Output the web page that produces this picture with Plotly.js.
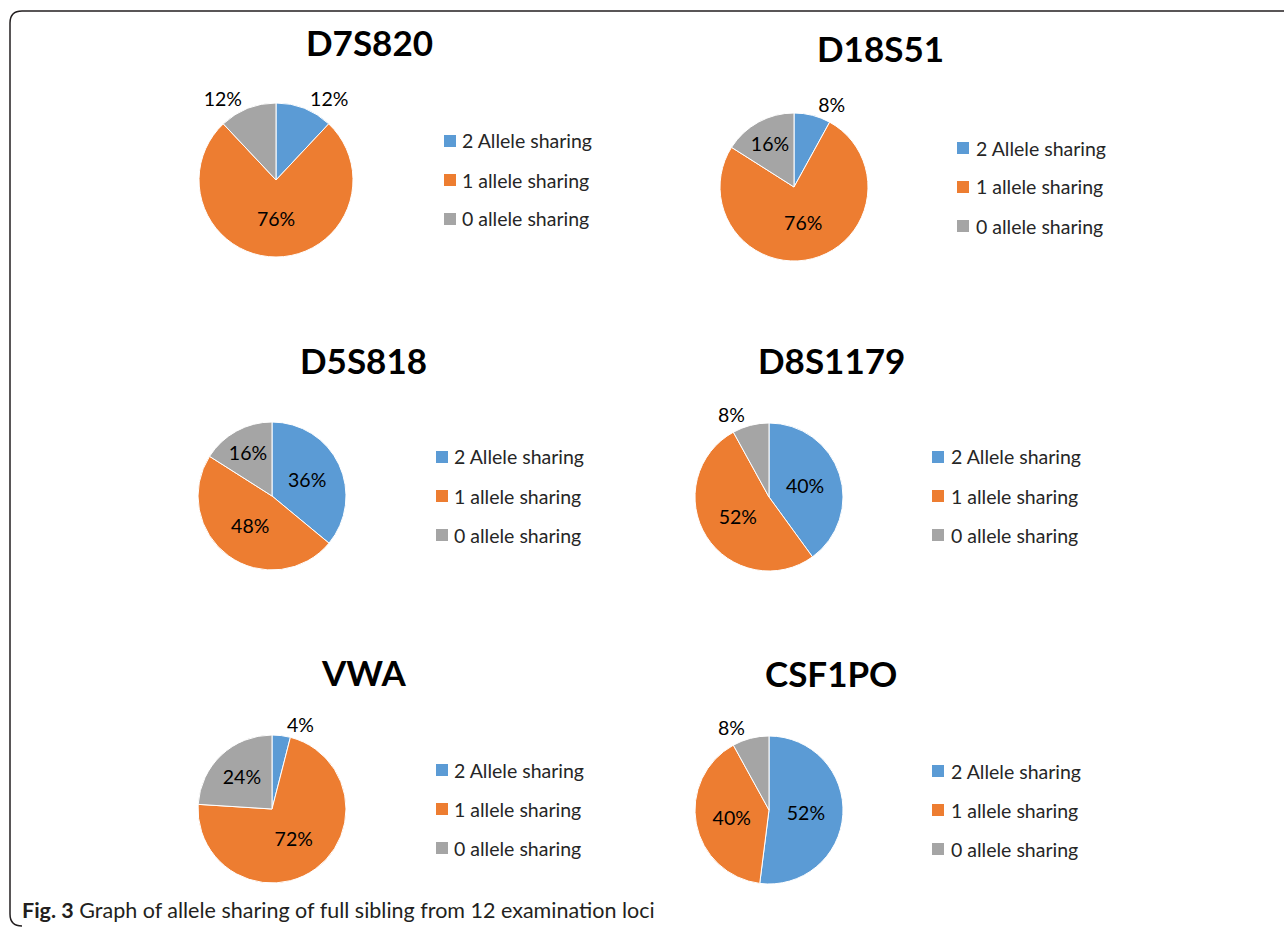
<!DOCTYPE html>
<html><head><meta charset="utf-8">
<script src="https://cdn.plot.ly/plotly-3.0.1.min.js"></script>
<style>html,body{margin:0;padding:0;background:#fff;overflow:hidden}#chart{width:1284px;height:927px}</style>
</head><body><div id="chart"></div>
<script>
// ---- data ----
const loci = ["D7S820", "D18S51", "D5S818", "D8S1179", "VWA", "CSF1PO"];
const categories = ["2 Allele sharing", "1 allele sharing", "0 allele sharing"];
const d7s820 = [12, 76, 12];
const d18s51 = [8, 76, 16];
const d5s818 = [36, 48, 16];
const d8s1179 = [40, 52, 8];
const vwa = [4, 72, 24];
const csf1po = [52, 40, 8];
const captionBold = "Fig. 3";
const captionText = "Graph of allele sharing of full sibling from 12 examination loci";

const seriesValues = [d7s820, d18s51, d5s818, d8s1179, vwa, csf1po];

// ---- layout (pixel geometry) ----
const W = 1284, H = 927;
const fx = x => x / W;
const fy = y => 1 - y / H;
const colors = ['#5B9BD5', '#ED7D31', '#A5A5A5'];
const FONT = 'Lato, "Open Sans", sans-serif';

const boxes = [
  {cx: 276, cy: 180, r: 77, tx: 369, ty: 42, sq: 444, lx: 460, ly: [141, 180, 219]},
  {cx: 794, cy: 187, r: 74, tx: 880, ty: 48, sq: 957, lx: 974, ly: [148, 187, 226]},
  {cx: 272, cy: 496, r: 74, tx: 363, ty: 360, sq: 436, lx: 452, ly: [457, 496, 535]},
  {cx: 769, cy: 497, r: 74, tx: 831, ty: 360, sq: 932, lx: 949, ly: [457, 496, 535]},
  {cx: 272, cy: 809, r: 74, tx: 363, ty: 672, sq: 436, lx: 452, ly: [770, 809, 848]},
  {cx: 769, cy: 810, r: 74, tx: 831, ty: 673, sq: 932, lx: 949, ly: [771, 810, 849]}
];
const textPos = [
  ['outside', 'inside', 'outside'],
  ['outside', 'inside', 'inside'],
  ['inside', 'inside', 'inside'],
  ['inside', 'inside', 'outside'],
  ['outside', 'inside', 'inside'],
  ['inside', 'inside', 'outside']
];

const traces = [];
const annotations = [];
const shapes = [];

seriesValues.forEach((vals, k) => {
  const b = boxes[k];
  traces.push({
    type: 'pie',
    values: vals,
    labels: categories,
    sort: false,
    direction: 'clockwise',
    rotation: 0,
    domain: {x: [fx(b.cx - b.r), fx(b.cx + b.r)], y: [fy(b.cy + b.r), fy(b.cy - b.r)]},
    marker: {colors: colors, line: {color: '#ffffff', width: 1}},
    texttemplate: '%{value}%',
    textposition: textPos[k],
    insidetextorientation: 'horizontal',
    textfont: {family: FONT, size: 19.5, color: '#000000'},
    hoverinfo: 'skip',
    showlegend: false
  });
  annotations.push({
    xref: 'paper', yref: 'paper', x: fx(b.tx), y: fy(b.ty),
    xanchor: 'center', yanchor: 'middle', showarrow: false,
    text: '<b>' + loci[k] + '</b>',
    font: {family: FONT, size: 35, color: '#000000'}
  });
  categories.forEach((c, i) => {
    shapes.push({
      type: 'rect', xref: 'paper', yref: 'paper',
      x0: fx(b.sq), x1: fx(b.sq + 12), y0: fy(b.ly[i] + 6), y1: fy(b.ly[i] - 6),
      fillcolor: colors[i], line: {width: 0}
    });
    annotations.push({
      xref: 'paper', yref: 'paper', x: fx(b.lx), y: fy(b.ly[i]),
      xanchor: 'left', yanchor: 'middle', showarrow: false,
      text: c, font: {family: FONT, size: 19.5, color: '#262626'}
    });
  });
});

annotations.push({
  xref: 'paper', yref: 'paper', x: fx(20), y: fy(910),
  xanchor: 'left', yanchor: 'middle', showarrow: false,
  text: '<b>' + captionBold + '</b> ' + captionText,
  font: {family: FONT, size: 21.5, color: '#231f20'}
});

// frame
const P = (x, y) => fx(x).toFixed(5) + ',' + fy(y).toFixed(5);
shapes.push({
  type: 'path', xref: 'paper', yref: 'paper',
  path: 'M' + P(22, 926) + ' Q' + P(10, 926) + ' ' + P(10, 914) + ' L' + P(10, 23) +
        ' Q' + P(10, 11) + ' ' + P(22, 11) + ' L' + P(1290, 11),
  line: {color: '#231f20', width: 1.5}
});

const layout = {
  width: W, height: H,
  margin: {l: 0, r: 0, t: 0, b: 0},
  paper_bgcolor: '#ffffff',
  showlegend: false,
  annotations: annotations,
  shapes: shapes,
  font: {family: FONT}
};

Plotly.newPlot('chart', traces, layout, {displayModeBar: false, staticPlot: true});
</script>
</body></html>
